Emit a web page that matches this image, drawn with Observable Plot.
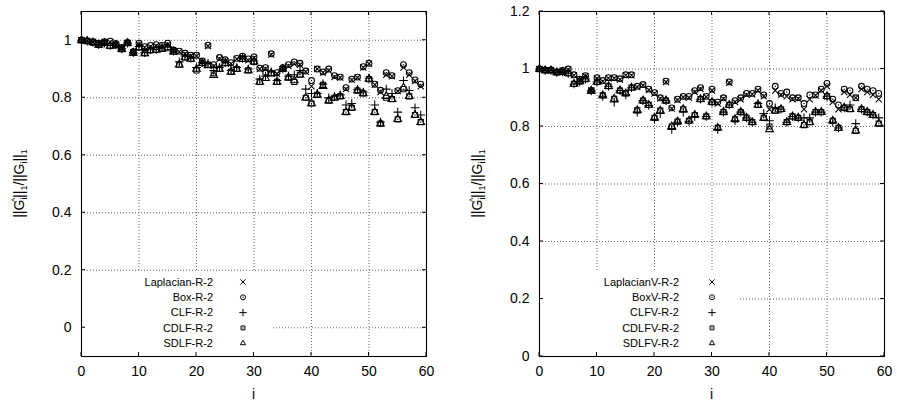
<!DOCTYPE html>
<html>
<head>
<meta charset="utf-8">
<script src="https://cdn.jsdelivr.net/npm/d3@7"></script>
<script src="https://cdn.jsdelivr.net/npm/@observablehq/plot@0.6"></script>
<style>
  html, body { margin: 0; padding: 0; background: #fff; }
  #wrap { position: relative; width: 897px; height: 405px; background: #fff; }
  #wrap svg { position: absolute; top: 0; }
</style>
</head>
<body>
<div id="wrap"></div>
<script>
const iValues = d3.range(60);
const xTicks = [0, 10, 20, 30, 40, 50, 60];
const yTicksLeft = [0, 0.2, 0.4, 0.6, 0.8, 1];
const yTicksRight = [0, 0.2, 0.4, 0.6, 0.8, 1, 1.2];

const namesLeft = ["Laplacian-R-2", "Box-R-2", "CLF-R-2", "CDLF-R-2", "SDLF-R-2"];
const namesRight = ["LaplacianV-R-2", "BoxV-R-2", "CLFV-R-2", "CDLFV-R-2", "SDLFV-R-2"];

// Left panel series
const lapL = [1,.998,.994,.988,.993,.993,.985,.973,.99,.958,.985,.975,.978,.98,.978,.985,.963,.96,.952,.945,
  .945,.925,.98,.91,.935,.928,.918,.935,.94,.93,.938,.9,.9,.95,.883,.9,.91,.918,.915,.89,
  .84,.9,.888,.895,.872,.87,.83,.862,.87,.905,.918,.845,.82,.88,.875,.823,.905,.88,.858,.84];
const boxL = [1,.998,.995,.99,.995,.997,.988,.975,.992,.96,.99,.978,.982,.985,.982,.99,.966,.962,.955,.948,
  .948,.928,.983,.915,.94,.932,.922,.937,.945,.935,.942,.903,.905,.953,.887,.905,.915,.925,.92,.893,
  .86,.9,.89,.9,.877,.872,.835,.865,.872,.908,.92,.847,.826,.887,.877,.825,.915,.887,.862,.847];
const clfL = [1,.997,.993,.985,.99,.982,.984,.97,.99,.957,.978,.957,.967,.968,.975,.977,.962,.925,.945,.938,
  .905,.922,.92,.895,.905,.922,.895,.905,.937,.9,.928,.865,.875,.89,.86,.9,.875,.88,.895,.83,
  .815,.815,.848,.8,.805,.81,.775,.78,.828,.82,.868,.775,.715,.83,.815,.75,.86,.825,.765,.74];
const cdlfL = [1,.997,.992,.984,.99,.98,.983,.969,.99,.956,.975,.955,.965,.966,.97,.975,.96,.915,.94,.935,
  .895,.92,.915,.885,.9,.92,.89,.9,.935,.895,.925,.855,.888,.885,.855,.9,.87,.855,.88,.8,
  .78,.81,.845,.79,.8,.805,.75,.765,.825,.815,.865,.75,.71,.8,.795,.725,.83,.805,.74,.715];
const sdlfL = [1,.997,.992,.984,.99,.98,.983,.969,.99,.956,.975,.954,.965,.966,.97,.975,.96,.915,.94,.935,
  .9,.92,.912,.878,.9,.92,.89,.9,.935,.895,.925,.855,.868,.885,.855,.9,.87,.86,.88,.8,
  .78,.81,.84,.79,.8,.805,.75,.765,.825,.815,.865,.75,.71,.805,.795,.725,.835,.805,.74,.715];

// Right panel series
const lapR = [1,.996,.996,.989,.993,.998,.978,.963,.975,.925,.967,.957,.968,.968,.963,.978,.978,.937,.943,.927,
  .915,.897,.955,.862,.892,.902,.9,.92,.93,.903,.925,.88,.897,.952,.885,.895,.91,.912,.925,.905,
  .86,.925,.91,.905,.895,.897,.86,.895,.908,.925,.94,.885,.86,.92,.91,.9,.93,.92,.91,.895];
const boxR = [1,.997,.997,.99,.995,1.0,.98,.965,.977,.925,.97,.96,.97,.97,.966,.98,.98,.94,.946,.93,
  .918,.9,.958,.865,.895,.905,.905,.925,.935,.905,.93,.885,.9,.955,.89,.9,.915,.915,.93,.91,
  .88,.94,.915,.92,.9,.9,.88,.91,.91,.93,.95,.895,.875,.93,.925,.9,.94,.93,.925,.915];
const clfR = [1,.995,.995,.988,.99,.985,.948,.955,.965,.924,.955,.905,.94,.885,.925,.91,.935,.85,.89,.873,
  .825,.845,.89,.79,.815,.85,.818,.835,.895,.835,.885,.79,.85,.875,.82,.85,.83,.815,.88,.845,
  .82,.865,.86,.815,.835,.83,.83,.83,.85,.85,.905,.815,.795,.865,.875,.81,.86,.85,.84,.83];
const cdlfR = [1,.995,.995,.988,.99,.985,.948,.957,.965,.924,.955,.908,.94,.896,.925,.915,.935,.856,.89,.875,
  .83,.855,.89,.8,.817,.86,.82,.84,.895,.835,.885,.795,.85,.875,.825,.85,.83,.815,.875,.83,
  .8,.855,.86,.815,.835,.83,.805,.815,.85,.85,.905,.82,.795,.865,.86,.785,.86,.85,.84,.81];
const sdlfR = [1,.995,.995,.988,.99,.985,.948,.957,.965,.924,.955,.908,.94,.896,.925,.915,.935,.856,.89,.875,
  .83,.855,.89,.8,.817,.86,.82,.84,.895,.835,.885,.795,.85,.875,.825,.85,.83,.815,.875,.83,
  .79,.855,.86,.815,.835,.83,.805,.815,.85,.85,.905,.82,.795,.865,.86,.785,.86,.85,.84,.81];

const symbols = ["times", "circle", "plus", "square", "triangle"];
const centerDot = [false, true, false, true, false];

const FONT = "'Liberation Sans', Arial, Helvetica, sans-serif";

function panel({width, marginLeft, marginRight, yDomain, yTicks, series, names, legendWidth, textX, symX}) {
  const marginTop = 11, marginBottom = 49, height = 405;
  const innerY = yTicks.filter(v => v > yDomain[0] && v < yDomain[1]);
  const marks = [
    Plot.gridX(xTicks.slice(1, -1), {stroke: "#000", strokeOpacity: 0.75, strokeWidth: 0.8, strokeDasharray: "1,2"}),
    Plot.gridY(innerY, {stroke: "#000", strokeOpacity: 0.75, strokeWidth: 0.8, strokeDasharray: "1,2"})
  ];
  series.forEach((vals, k) => {
    marks.push(Plot.dot(iValues, {x: d => d, y: d => vals[d], symbol: symbols[k], r: 2.9,
      stroke: "#000", strokeWidth: 1.05, fill: "none"}));
    if (centerDot[k]) marks.push(Plot.dot(iValues, {x: d => d, y: d => vals[d], r: 0.7, fill: "#000", stroke: "none"}));
  });
  marks.push(Plot.frame({stroke: "#000", strokeWidth: 1.1}));
  marks.push(Plot.axisX(xTicks, {tickSize: 0, tickPadding: 10, fontSize: 14, label: null, tickFormat: d => String(d)}));
  marks.push(Plot.axisY(yTicks, {tickSize: 0, tickPadding: 10, fontSize: 14, label: null, tickFormat: d => String(d)}));

  const plot = Plot.plot({
    width, height, marginLeft, marginRight, marginTop, marginBottom,
    x: {domain: [0, 60]},
    y: {domain: yDomain},
    style: {fontFamily: FONT, color: "#000", background: "#fff", fontSize: "14px"},
    marks
  });

  const svg = d3.select(plot);
  const sx = plot.scale("x"), sy = plot.scale("y");
  const x0 = sx.apply(0), x1 = sx.apply(60);
  const yb = sy.apply(yDomain[0]), yt = sy.apply(yDomain[1]);

  // legend box (covers grid lines)
  const firstDot = plot.querySelector('g[aria-label="dot"]');
  const lgTop = yb - 85;
  const box = document.createElementNS("http://www.w3.org/2000/svg", "rect");
  box.setAttribute("x", x0 + 0.6);
  box.setAttribute("y", lgTop);
  box.setAttribute("width", legendWidth);
  box.setAttribute("height", yb - lgTop - 0.6);
  box.setAttribute("fill", "#fff");
  plot.insertBefore(box, firstDot);

  // inward ticks on all four sides
  const tk = svg.append("g").attr("stroke", "#000").attr("stroke-width", 1);
  xTicks.forEach(v => {
    const x = sx.apply(v);
    tk.append("line").attr("x1", x).attr("x2", x).attr("y1", yb).attr("y2", yb - 4);
    tk.append("line").attr("x1", x).attr("x2", x).attr("y1", yt).attr("y2", yt + 4);
  });
  yTicks.forEach(v => {
    const y = sy.apply(v);
    tk.append("line").attr("x1", x0).attr("x2", x0 + 4).attr("y1", y).attr("y2", y);
    tk.append("line").attr("x1", x1).attr("x2", x1 - 4).attr("y1", y).attr("y2", y);
  });

  // legend entries
  const lg = svg.append("g").attr("font-family", FONT).attr("font-size", 11);
  const symMap = {times: d3.symbolTimes, circle: d3.symbolCircle, plus: d3.symbolPlus, square: d3.symbolSquare2, triangle: d3.symbolTriangle2};
  names.forEach((name, k) => {
    const y = lgTop + 11 + k * 15.3;
    lg.append("text").attr("x", textX).attr("y", y).attr("dy", "0.35em").attr("text-anchor", "end").attr("fill", "#000").text(name);
    lg.append("path").attr("transform", `translate(${symX},${y})`)
      .attr("d", d3.symbol(symMap[symbols[k]], Math.PI * 2.5 * 2.5)())
      .attr("fill", "none").attr("stroke", "#000").attr("stroke-width", 1);
    if (centerDot[k]) lg.append("circle").attr("cx", symX).attr("cy", y).attr("r", 0.7).attr("fill", "#000");
  });

  // y-axis label with subscripts
  const cy = (yb + yt) / 2;
  const lx = x0 - 57;
  const t = svg.append("text").attr("transform", `translate(${lx},${cy}) rotate(-90)`)
    .attr("text-anchor", "middle").attr("font-family", FONT).attr("font-size", 14).attr("fill", "#000");
  t.append("tspan").text("||G");
  t.append("tspan").attr("font-size", 9).attr("dy", 3).text("i");
  t.append("tspan").attr("font-size", 9).attr("dx", -4.5).attr("dy", -9).text("^");
  t.append("tspan").attr("dy", 6).text("||");
  t.append("tspan").attr("font-size", 9).attr("dy", 3).text("1");
  t.append("tspan").attr("dy", -3).text("/||G");
  t.append("tspan").attr("font-size", 9).attr("dy", 3).text("i");
  t.append("tspan").attr("dy", -3).text("||");
  t.append("tspan").attr("font-size", 9).attr("dy", 3).text("1");

  // x-axis label
  svg.append("text").attr("x", (x0 + x1) / 2).attr("y", yb + 43).attr("text-anchor", "middle")
    .attr("font-family", FONT).attr("font-size", 14).attr("fill", "#000").text("i");

  return plot;
}

const left = panel({
  width: 448, marginLeft: 81, marginRight: 22, yDomain: [-0.1, 1.1], yTicks: yTicksLeft,
  series: [lapL, boxL, clfL, cdlfL, sdlfL], names: namesLeft, legendWidth: 191, textX: 213, symX: 243
});
left.style.left = "0px";
const right = panel({
  width: 449, marginLeft: 91, marginRight: 13, yDomain: [0, 1.2], yTicks: yTicksRight,
  series: [lapR, boxR, clfR, cdlfR, sdlfR], names: namesRight, legendWidth: 198, textX: 231, symX: 264
});
right.style.left = "448px";
document.getElementById("wrap").append(left, right);
</script>
</body>
</html>
